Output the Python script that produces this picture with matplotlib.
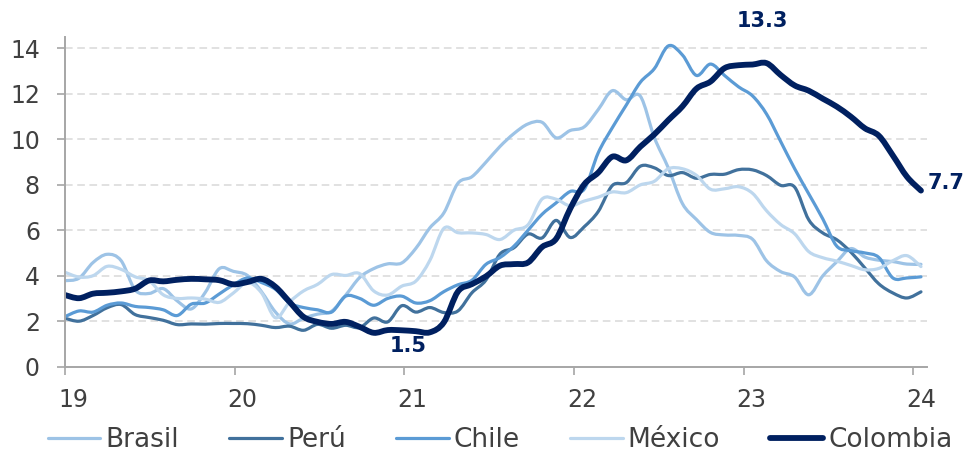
import matplotlib
matplotlib.use("Agg")
import matplotlib.pyplot as plt
from matplotlib.transforms import ScaledTranslation
from matplotlib.path import Path
from matplotlib.patches import PathPatch
from matplotlib.lines import Line2D

# Monthly annual inflation (%), Jan 2019 - Feb 2024
brasil = [3.78, 3.89, 4.58, 4.94, 4.66, 3.37, 3.22, 3.43, 2.89, 2.54, 3.27, 4.31,
          4.19, 4.01, 3.30, 2.40, 1.88, 2.13, 2.31, 2.44, 3.14, 3.92, 4.31, 4.52,
          4.56, 5.20, 6.10, 6.76, 8.06, 8.35, 8.99, 9.68, 10.25, 10.67, 10.74, 10.06,
          10.38, 10.54, 11.30, 12.13, 11.73, 11.89, 10.07, 8.73, 7.17, 6.47, 5.90, 5.79,
          5.77, 5.60, 4.65, 4.18, 3.94, 3.16, 3.99, 4.61, 5.19, 4.82, 4.68, 4.62,
          4.51, 4.50]
peru = [2.13, 2.00, 2.25, 2.59, 2.73, 2.29, 2.16, 2.04, 1.85, 1.88, 1.87, 1.90,
        1.90, 1.89, 1.82, 1.72, 1.78, 1.60, 1.86, 1.69, 1.82, 1.72, 2.14, 1.97,
        2.68, 2.40, 2.60, 2.38, 2.45, 3.25, 3.81, 4.95, 5.23, 5.83, 5.66, 6.43,
        5.68, 6.15, 6.82, 7.96, 8.09, 8.81, 8.74, 8.40, 8.53, 8.28, 8.45, 8.46,
        8.66, 8.65, 8.40, 7.97, 7.89, 6.46, 5.88, 5.58, 5.04, 4.34, 3.64, 3.24,
        3.02, 3.29]
chile = [2.2, 2.45, 2.4, 2.7, 2.8, 2.65, 2.6, 2.5, 2.25, 2.75, 2.8, 3.2,
         3.6, 3.9, 3.7, 3.4, 2.8, 2.6, 2.5, 2.4, 3.1, 3.0, 2.7, 3.0,
         3.1, 2.8, 2.9, 3.3, 3.6, 3.8, 4.5, 4.8, 5.3, 6.0, 6.7, 7.2,
         7.7, 7.8, 9.4, 10.5, 11.5, 12.5, 13.1, 14.1, 13.7, 12.8, 13.3, 12.8,
         12.3, 11.9, 11.1, 9.9, 8.7, 7.6, 6.5, 5.3, 5.1, 5.0, 4.8, 3.9,
         3.9, 3.95]
mexico = [4.15, 3.94, 4.00, 4.41, 4.28, 3.95, 3.78, 3.16, 3.00, 3.02, 2.97, 2.83,
          3.24, 3.70, 3.25, 2.15, 2.84, 3.33, 3.62, 4.05, 4.01, 4.09, 3.33, 3.15,
          3.54, 3.76, 4.67, 6.08, 5.89, 5.88, 5.81, 5.59, 6.00, 6.24, 7.37, 7.36,
          7.07, 7.28, 7.45, 7.68, 7.65, 7.99, 8.15, 8.70, 8.70, 8.41, 7.80, 7.82,
          7.91, 7.62, 6.85, 6.25, 5.84, 5.06, 4.79, 4.64, 4.45, 4.26, 4.32, 4.66,
          4.88, 4.40]
colombia = [3.15, 3.01, 3.21, 3.25, 3.31, 3.43, 3.79, 3.75, 3.82, 3.86, 3.84, 3.80,
            3.62, 3.72, 3.86, 3.51, 2.85, 2.19, 1.97, 1.88, 1.97, 1.75, 1.49, 1.61,
            1.60, 1.56, 1.51, 1.95, 3.30, 3.63, 3.97, 4.44, 4.51, 4.58, 5.26, 5.62,
            6.94, 8.01, 8.53, 9.23, 9.07, 9.67, 10.21, 10.84, 11.44, 12.22, 12.53, 13.12,
            13.25, 13.28, 13.34, 12.82, 12.36, 12.13, 11.78, 11.43, 10.99, 10.48, 10.15, 9.28,
            8.35, 7.74]

series_names = ["Brasil", "Perú", "Chile", "México", "Colombia"]
series_values = [brasil, peru, chile, mexico, colombia]
series_colors = ["#9DC3E6", "#41719C", "#5B9BD5", "#BDD7EE", "#002060"]
series_widths = [2.3, 2.3, 2.3, 2.3, 4.2]

year_labels = ["19", "20", "21", "22", "23", "24"]
year_tick_pos = [0, 12.09, 24.18, 36.27, 48.36, 60.45]
y_ticks = [0, 2, 4, 6, 8, 10, 12, 14]

plt.rcParams['font.family'] = ['DejaVu Sans']


def smooth_path(xs, ys):
    """Smoothed (Excel-style) curve through every data point using cubic Bezier segments."""
    n = len(xs)
    verts = [(xs[0], ys[0])]
    codes = [Path.MOVETO]
    for i in range(n - 1):
        x0, y0 = (xs[i - 1], ys[i - 1]) if i > 0 else (xs[i], ys[i])
        x1, y1 = xs[i], ys[i]
        x2, y2 = xs[i + 1], ys[i + 1]
        x3, y3 = (xs[i + 2], ys[i + 2]) if i + 2 < n else (xs[i + 1], ys[i + 1])
        c1 = (x1 + (x2 - x0) / 6.0, y1 + (y2 - y0) / 6.0)
        c2 = (x2 - (x3 - x1) / 6.0, y2 - (y3 - y1) / 6.0)
        verts += [c1, c2, (x2, y2)]
        codes += [Path.CURVE4] * 3
    return Path(verts, codes)


fig = plt.figure(figsize=(9.69, 4.55), dpi=100)
ax = fig.add_axes([65 / 969, (455 - 366.7) / 455, 862 / 969, (366.7 - 37) / 455])

months = list(range(len(colombia)))
handles = []
for name, vals, col, lw in zip(series_names, series_values, series_colors, series_widths):
    patch = PathPatch(smooth_path(months, vals), facecolor='none', edgecolor=col, lw=lw,
                      capstyle='round', joinstyle='round', transform=ax.transData)
    ax.add_patch(patch)
    handles.append(Line2D([], [], color=col, lw=lw, solid_capstyle='round', label=name))

ax.set_xlim(0, 61.43)
ax.set_ylim(0, 14.49)
ax.set_yticks(y_ticks)
ax.set_xticks(year_tick_pos)
ax.set_xticklabels(year_labels)

for s in ["top", "right"]:
    ax.spines[s].set_visible(False)
for s in ["left", "bottom"]:
    ax.spines[s].set_color("#a6a6a6")
    ax.spines[s].set_linewidth(1.4)

ax.tick_params(axis='both', direction='out', length=6, width=1.2, color='#a6a6a6',
               labelsize=17, labelcolor='#404040')
ax.tick_params(axis='y', pad=12)
ax.tick_params(axis='x', pad=9)

offset = ScaledTranslation(8 / 100, 0, fig.dpi_scale_trans)
for lab in ax.get_xticklabels():
    lab.set_transform(lab.get_transform() + offset)

ax.set_axisbelow(True)
ax.yaxis.grid(True, color='#d9d9d9', lw=1.1, linestyle=(0, (5, 3)))
ax.xaxis.grid(False)
gl = ax.yaxis.get_gridlines()
gl[0].set_visible(False)

# annotations
navy = "#002060"
imax = max(months, key=lambda i: colombia[i])
ax.annotate(f"{colombia[imax]:.1f}", xy=(imax, colombia[imax]), xytext=(-4, 42),
            textcoords='offset pixels', ha='center', va='center',
            fontsize=15, fontweight='bold', color=navy)
imin = 26
ax.annotate(f"{colombia[imin]:.1f}", xy=(imin, colombia[imin]), xytext=(-22, -14),
            textcoords='offset pixels', ha='center', va='center',
            fontsize=15, fontweight='bold', color=navy)
ilast = len(colombia) - 1
ax.annotate(f"{colombia[ilast]:.1f}", xy=(ilast, colombia[ilast]), xytext=(7, 8),
            textcoords='offset pixels', ha='left', va='center',
            fontsize=15, fontweight='bold', color=navy, annotation_clip=False)

leg = fig.legend(handles=handles, loc='center', bbox_to_anchor=(0.516, 0.033), ncol=5,
                 frameon=False, fontsize=19, handlelength=2.0, handletextpad=0.19,
                 columnspacing=1.9, labelcolor='#404040')

fig.savefig("out.png", dpi=100)
